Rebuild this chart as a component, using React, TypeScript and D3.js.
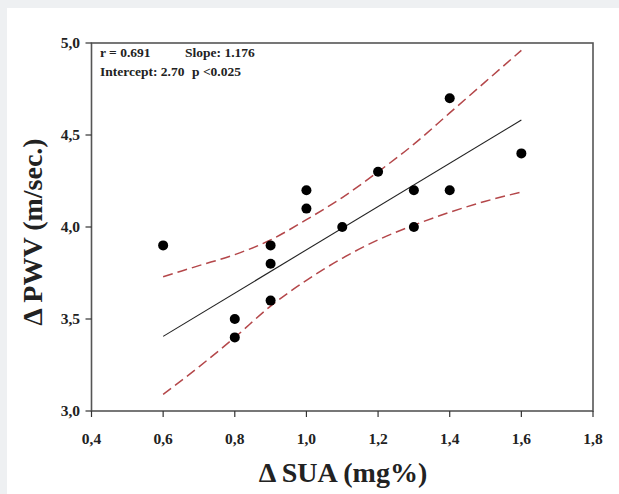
import React from "react";
import * as d3 from "d3";

const pointsX = [0.6, 0.8, 0.8, 0.9, 0.9, 0.9, 1.0, 1.0, 1.1, 1.2, 1.3, 1.3, 1.4, 1.4, 1.6];
const pointsY = [3.9, 3.5, 3.4, 3.9, 3.8, 3.6, 4.2, 4.1, 4.0, 4.3, 4.2, 4.0, 4.7, 4.2, 4.4];

const fitSlope = 1.176;
const fitIntercept = 2.70;
const fitRange = [0.6, 1.6];

const bandX = [0.6, 0.7, 0.8, 0.9, 1.0, 1.1, 1.2, 1.3, 1.4, 1.5, 1.6];
const bandUpper = [3.73, 3.79, 3.85, 3.93, 4.04, 4.16, 4.30, 4.45, 4.62, 4.79, 4.96];
const bandLower = [3.09, 3.24, 3.40, 3.57, 3.71, 3.83, 3.93, 4.01, 4.08, 4.14, 4.19];

const xTicks = [0.4, 0.6, 0.8, 1.0, 1.2, 1.4, 1.6, 1.8];
const yTicks = [3.0, 3.5, 4.0, 4.5, 5.0];

const fmt = (v: number) => v.toFixed(1).replace(".", ",");

export default function App() {
  const W = 619, H = 494;
  const L = 91.5, R = 593, T = 43, B = 411;
  const x = d3.scaleLinear().domain([0.4, 1.8]).range([L, R]);
  const y = d3.scaleLinear().domain([3.0, 5.0]).range([B, T]);
  const band = d3.line<number>().x((_, i) => x(bandX[i])).y((v) => y(v)).curve(d3.curveMonotoneX);
  const serif = "'Liberation Serif', 'Times New Roman', serif";
  const red = "#b4474a";
  return (
    <svg width={W} height={H} style={{ position: "absolute", left: 0, top: 0 }}>
      <rect x={0} y={0} width={W} height={H} fill="#eef0f2" />
      <rect x={7} y={8} width={W - 7} height={H - 8} fill="#ffffff" />
      <rect x={L} y={T} width={R - L} height={B - T} fill="none" stroke="#555" strokeWidth={1.6} />
      {yTicks.map((t) => (
        <g key={"y" + t}>
          <line x1={L - 6} x2={L} y1={y(t)} y2={y(t)} stroke="#333" strokeWidth={1.2} />
          <text x={80} y={y(t) + 5} textAnchor="end" fontFamily={serif} fontWeight="bold" fontSize={15.5} fill="#222">{fmt(t)}</text>
        </g>
      ))}
      {xTicks.map((t) => (
        <g key={"x" + t}>
          <line x1={x(t)} x2={x(t)} y1={B} y2={B + 6} stroke="#333" strokeWidth={1.2} />
          <text x={x(t)} y={444} textAnchor="middle" fontFamily={serif} fontWeight="bold" fontSize={15.5} fill="#222">{fmt(t)}</text>
        </g>
      ))}
      <path d={band(bandUpper) || ""} fill="none" stroke={red} strokeWidth={1.5} strokeDasharray="10 5" />
      <path d={band(bandLower) || ""} fill="none" stroke={red} strokeWidth={1.5} strokeDasharray="10 5" />
      <line
        x1={x(fitRange[0])} y1={y(fitIntercept + fitSlope * fitRange[0])}
        x2={x(fitRange[1])} y2={y(fitIntercept + fitSlope * fitRange[1])}
        stroke="#222" strokeWidth={1.1}
      />
      {pointsX.map((px, i) => (
        <circle key={i} cx={x(px)} cy={y(pointsY[i])} r={5} fill="#000" />
      ))}
      <text x={100} y={57} fontFamily={serif} fontWeight="bold" fontSize={13.5} fill="#222">r = 0.691</text>
      <text x={185} y={57} fontFamily={serif} fontWeight="bold" fontSize={13.5} fill="#222">Slope: 1.176</text>
      <text x={100} y={76} fontFamily={serif} fontWeight="bold" fontSize={13.5} fill="#222">Intercept: 2.70</text>
      <text x={192} y={76} fontFamily={serif} fontWeight="bold" fontSize={13.5} fill="#222">p &lt;0.025</text>
      <text x={343} y={482} textAnchor="middle" fontFamily={serif} fontWeight="bold" fontSize={28} fill="#222">Δ SUA (mg%)</text>
      <text transform={`translate(42,${(T + B) / 2 + 5}) rotate(-90)`} textAnchor="middle" fontFamily={serif} fontWeight="bold" fontSize={28} fill="#222">Δ PWV (m/sec.)</text>
    </svg>
  );
}
